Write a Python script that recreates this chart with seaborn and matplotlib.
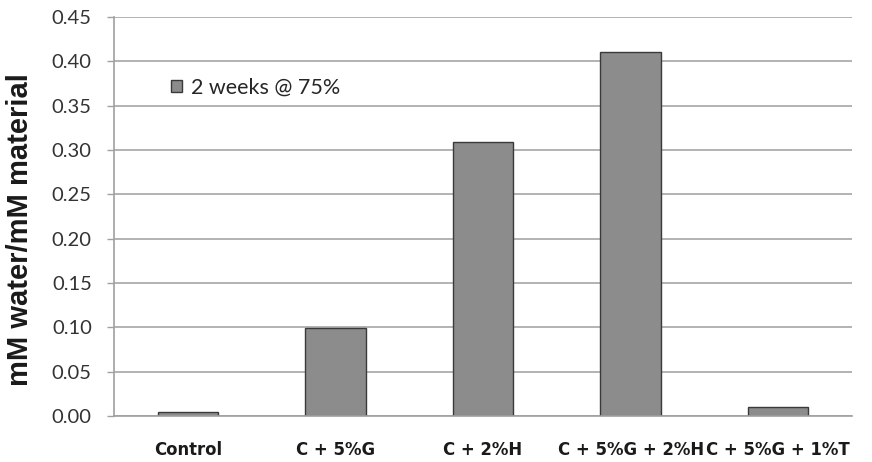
import numpy as np
import matplotlib
matplotlib.use("Agg")
import matplotlib.pyplot as plt
import seaborn as sns

# data
categories = ["Control", "C + 5%G", "C + 2%H", "C + 5%G + 2%H", "C + 5%G + 1%T"]
values = [0.005, 0.099, 0.309, 0.410, 0.010]
series_name = "2 weeks @ 75%"
yticks = [0.00, 0.05, 0.10, 0.15, 0.20, 0.25, 0.30, 0.35, 0.40, 0.45]

sns.set_style("white")
plt.rcParams['font.family'] = ['Liberation Sans', 'DejaVu Sans']

W, H = 872, 462
fig = plt.figure(figsize=(W / 100, H / 100), dpi=100)
# plot area: x 114..852 px, y 17..416 px
ax = fig.add_axes([114 / W, 1 - 416 / H, (852 - 114) / W, (416 - 17) / H])

sns.barplot(x=categories, y=values, color="#8c8c8c", edgecolor="#3a3a3a",
            linewidth=1.0, width=0.41, saturation=1, label=series_name, ax=ax)

ax.set_ylim(0, 0.45)
ax.set_xlim(-0.5, len(categories) - 0.5)
ax.set_yticks(yticks)
ax.set_yticklabels([f"{t:.2f}" for t in yticks], fontsize=14.5, color="#333333",
                   family=["Lato", "DejaVu Sans"])
ax.yaxis.grid(True, color="#a6a6a6", linewidth=1.2)
ax.set_axisbelow(True)

# x ticks at category boundaries, labels centred
ax.set_xticks(np.arange(len(categories)))
ax.set_xticklabels(categories, fontsize=11.9, fontweight="bold", color="#1a1a1a",
                   family=["DejaVu Sans"])
ax.set_xticks(np.arange(-0.5, len(categories)), minor=True)
ax.tick_params(axis="x", which="major", length=0, pad=18)
ax.tick_params(axis="x", which="minor", length=6, width=1, color="#a0a0a0", direction="out")
ax.tick_params(axis="y", which="major", length=5, width=1, color="#a0a0a0",
               direction="out", left=True, pad=11)

for s in ["top", "right"]:
    ax.spines[s].set_visible(False)
for s in ["left", "bottom"]:
    ax.spines[s].set_color("#a0a0a0")
    ax.spines[s].set_linewidth(1.2)

ax.set_ylabel("mM water/mM material", fontsize=21, fontweight="bold", color="#1a1a1a")
ax.yaxis.set_label_coords(-(114 - 34) / (852 - 114), (416 - 230) / (416 - 17))
ax.set_xlabel("")

leg = ax.legend(loc="center left", bbox_to_anchor=(171 / W, 1 - 88 / H),
                bbox_transform=fig.transFigure, frameon=False,
                prop={"family": ["Lato", "DejaVu Sans"], "size": 15.5},
                handlelength=0.5, handleheight=0.5, handletextpad=0.45,
                borderpad=0, borderaxespad=0)

fig.savefig("out.png", dpi=100)
